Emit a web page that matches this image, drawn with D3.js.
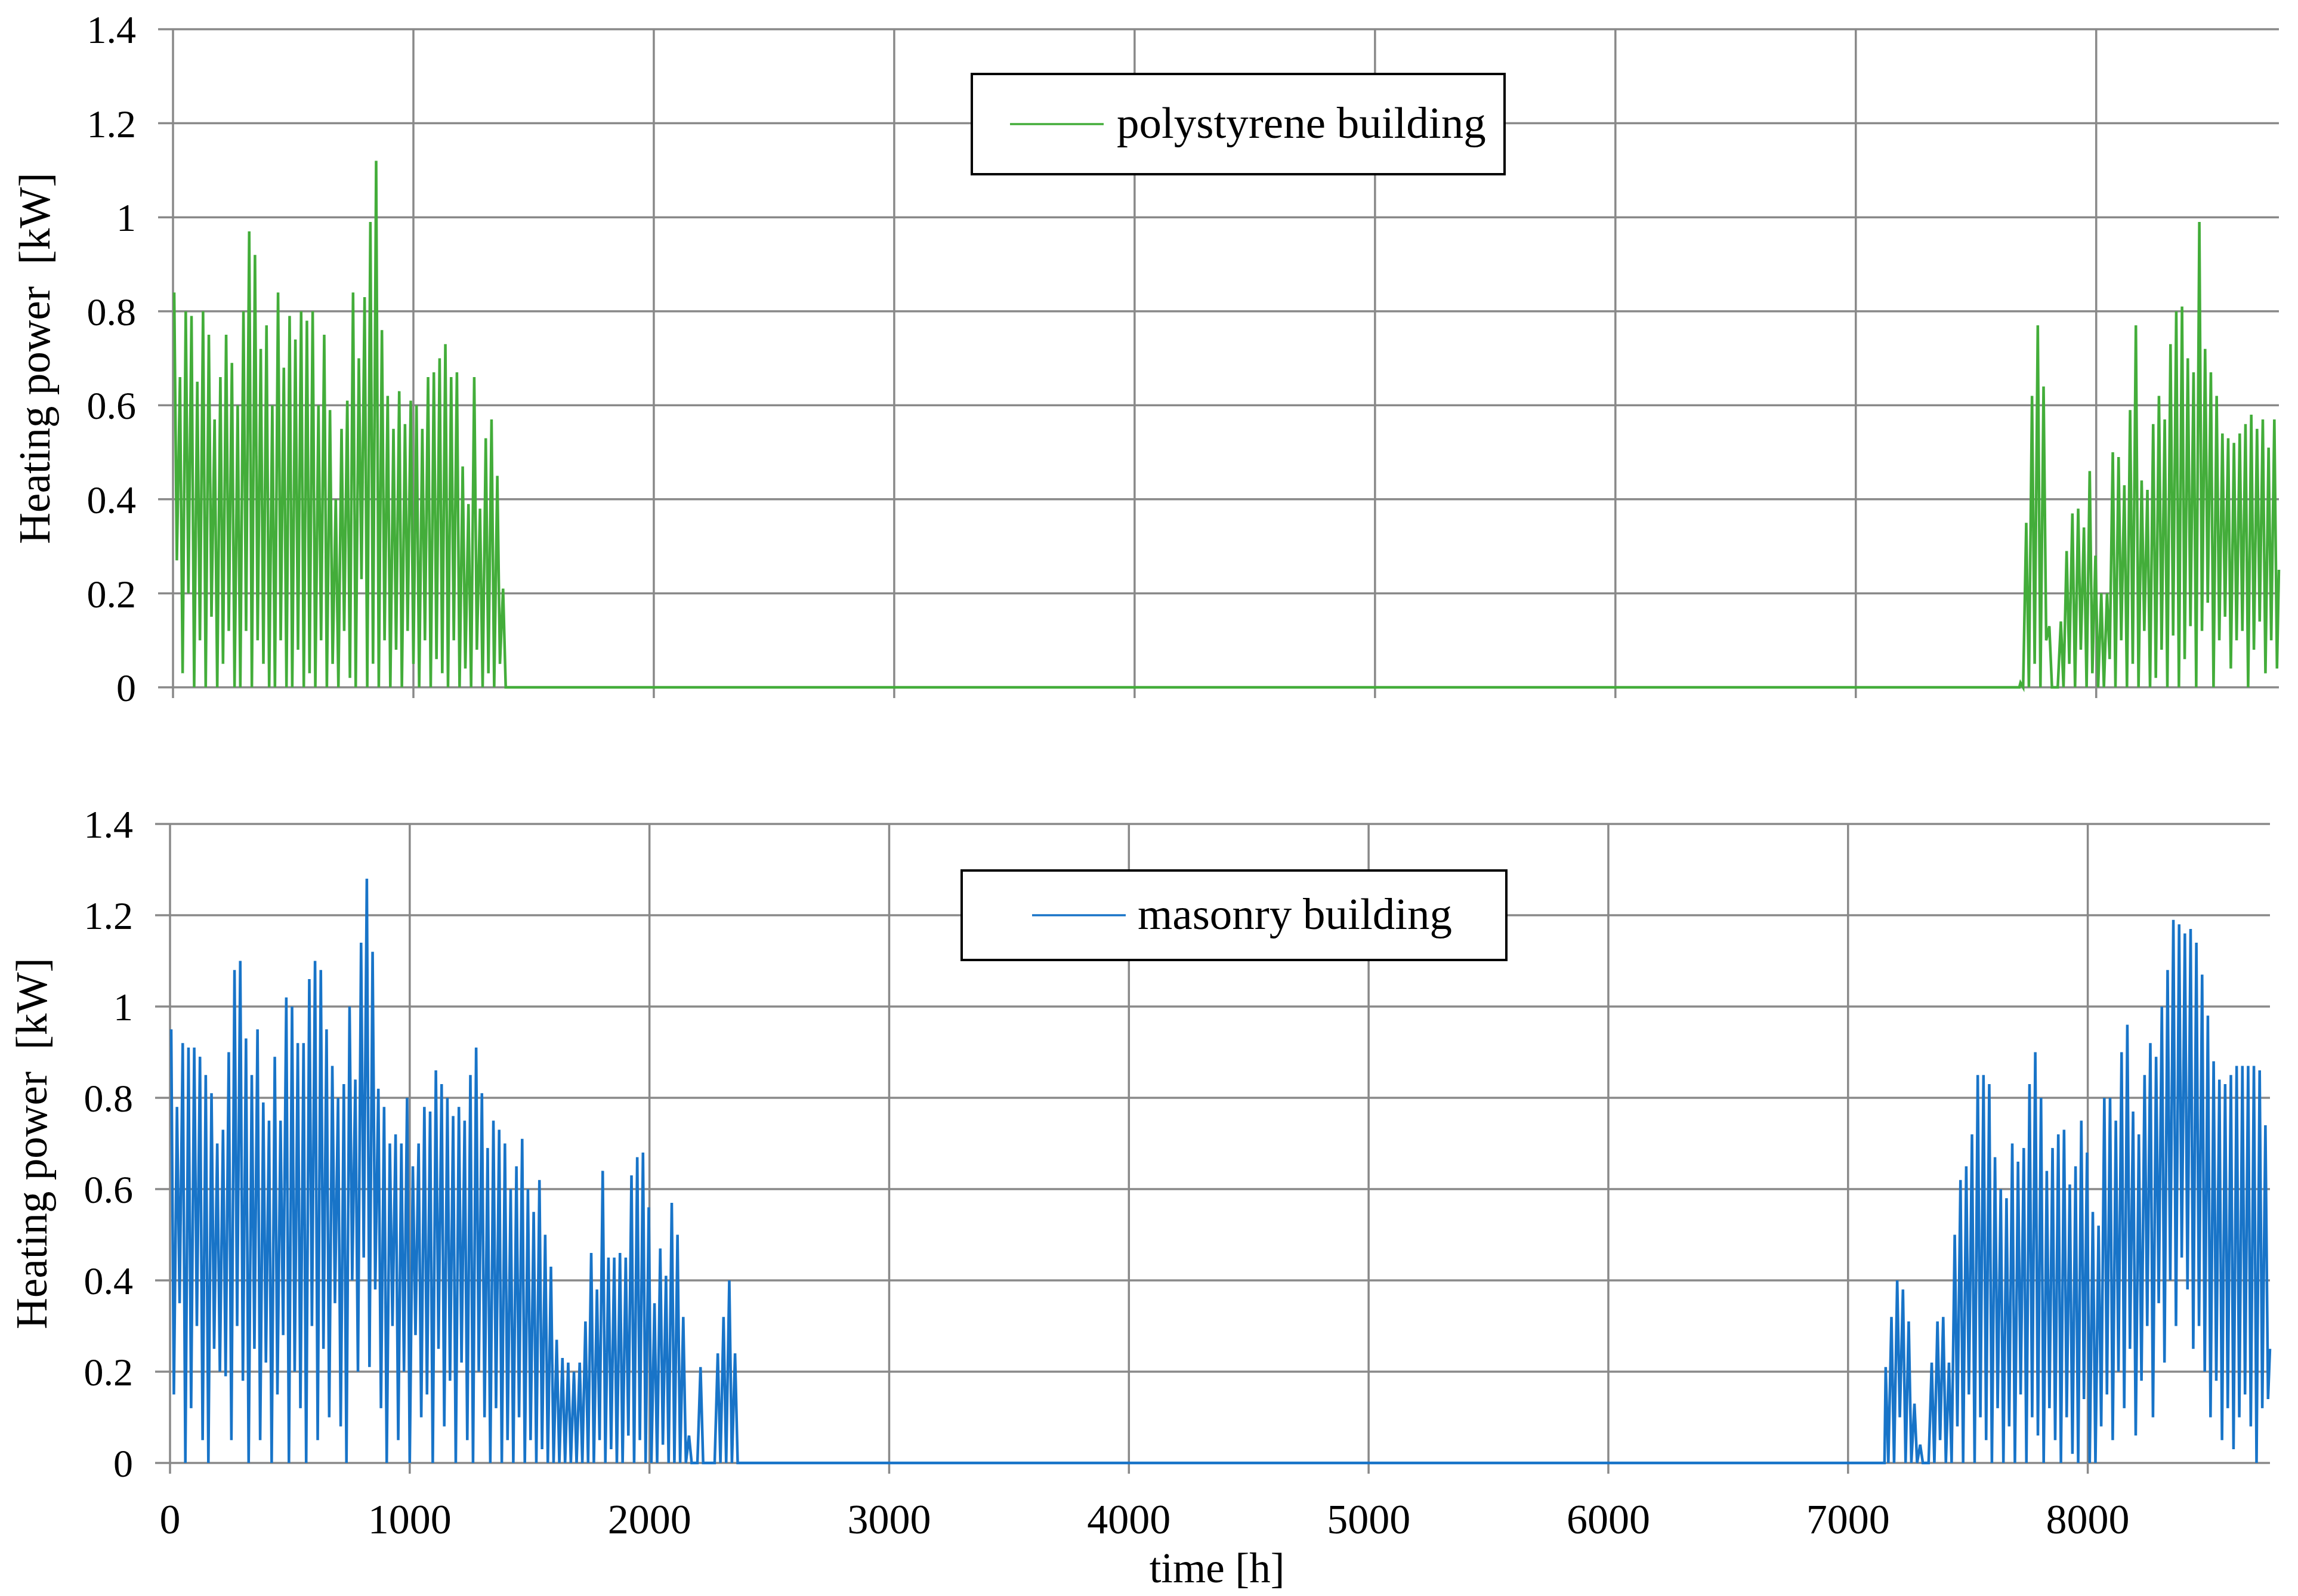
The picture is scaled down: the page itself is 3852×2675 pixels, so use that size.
<!DOCTYPE html>
<html><head><meta charset="utf-8">
<script src="https://cdn.jsdelivr.net/npm/d3@7"></script>
<style>body{margin:0;background:#fff}svg{display:block}</style>
</head><body>
<svg id="c" width="3852" height="2675"></svg>
<script>
// ---- DATA (daily peak / trough heating power, kW) ----
const xTicks = [0,1000,2000,3000,4000,5000,6000,7000,8000];
const yTicks = [0,0.2,0.4,0.6,0.8,1,1.2,1.4];
const yTickLabels = ["0","0.2","0.4","0.6","0.8","1","1.2","1.4"];

const polyEarlyStartDay = 0;
const polyEarlyHigh = [0.84,0.66,0.80,0.79,0.65,0.80,0.75,0.57,0.66,0.75,0.69,
 0.60,0.80,0.97,0.92,0.72,0.77,0.60,0.84,
 0.68,0.79,0.74,0.80,0.78,0.80,0.60,0.75,
 0.59,0.40,0.55,0.61,0.84,0.70,0.83,0.99,1.12,0.76,
 0.62,0.55,0.63,0.56,0.61,0.60,0.55,0.66,0.67,0.70,
 0.73,0.66,0.67,0.47,0.39,0.66,0.38,0.53,0.57,0.45,0.21];
const polyEarlyLow = [0.27,0.03,0.20,0,0.10,0,0.15,0,0.05,0.12,0,
 0,0.12,0,0.10,0.05,0,0,0.10,
 0,0,0.08,0,0.03,0,0.10,0,
 0.05,0,0.12,0.02,0,0.23,0,0.05,0,0.10,
 0,0.08,0,0.12,0.05,0,0.10,0,0.06,0.03,
 0,0.10,0,0.04,0,0.08,0,0.03,0,0.05,0];
const polyLateStartDay = 320;
const polyLateHigh = [0.01,0.35,0.62,0.77,0.64,0.13,0,0.14,0.29,0.37,0.38,0.34,0.46,0.28,0.20,0.20,
 0.50,0.49,0.43,0.59,0.77,0.44,0.42,0.56,0.62,0.57,0.73,0.80,0.81,0.70,0.67,0.99,
 0.72,0.67,0.62,0.54,0.53,0.52,0.54,0.56,0.58,0.55,0.57,0.51,0.57];
const polyLateLow = [0,0,0.05,0,0.10,0,0,0,0.05,0,0.08,0,0.03,0,0,0.06,
 0,0.10,0,0.05,0,0.12,0,0.02,0.08,0,0.11,0,0.06,0.13,0,0.12,
 0.18,0,0.10,0.15,0.04,0.10,0.12,0,0.08,0.14,0.03,0.10,0.04];

const masEarlyStartDay = 0;
const masEarlyHigh = [0.95,0.78,0.92,0.91,0.91,0.89,0.85,0.81,0.70,
 0.73,0.90,1.08,1.10,0.93,0.85,0.95,0.79,0.75,
 0.89,0.75,1.02,1.00,0.92,0.92,1.06,1.10,1.08,0.95,
 0.87,0.80,0.83,1.00,0.84,1.14,1.28,1.12,0.82,0.78,
 0.70,0.72,0.70,0.80,0.65,0.70,0.78,0.77,0.86,0.83,
 0.80,0.76,0.78,0.75,0.85,0.91,0.81,0.69,0.75,0.73,
 0.70,0.60,0.65,0.71,0.60,0.55,0.62,0.50,0.43,0.27,
 0.23,0.22,0.20,0.22,0.31,0.46,0.38,0.64,0.45,0.45,
 0.46,0.45,0.63,0.67,0.68,0.56,0.35,0.47,0.41,0.57,
 0.50,0.32,0.06,0,0.21,0,0,0.24,0.32,0.40,0.24];
const masEarlyLow = [0.15,0.35,0,0.12,0.30,0.05,0,0.25,0.20,
 0.19,0.05,0.30,0.18,0,0.25,0.05,0.22,0,
 0.15,0.28,0,0.20,0.12,0,0.30,0.05,0.25,0.10,
 0.35,0.08,0,0.40,0.20,0.45,0.21,0.38,0.12,0,
 0.30,0.05,0.20,0,0.28,0.10,0.15,0,0.25,0.08,
 0.18,0,0.22,0.05,0,0.20,0.10,0,0.12,0,
 0.05,0,0.10,0,0.05,0,0.03,0,0,0,
 0,0,0,0,0,0,0.05,0,0.03,0,
 0,0.06,0,0.05,0,0,0,0.04,0,0,
 0,0,0,0,0,0,0,0,0,0,0];
const masLateStartDay = 298;
const masLateHigh = [0.21,0.32,0.40,0.38,0.31,0.13,0.04,0,0.22,0.31,0.32,0.22,0.50,0.62,0.65,0.72,0.85,0.85,0.83,0.67,
 0.60,0.58,0.70,0.66,0.69,0.83,0.90,0.80,0.64,0.69,0.72,0.73,0.61,0.65,0.75,0.68,0.55,0.52,0.80,0.80,
 0.75,0.90,0.96,0.77,0.72,0.85,0.92,0.89,1.00,1.08,1.19,1.18,1.16,1.17,1.14,1.07,0.98,0.88,0.84,0.83,
 0.85,0.87,0.87,0.87,0.87,0.86,0.74];
const masLateLow = [0,0,0.10,0,0,0,0,0,0,0.05,0,0,0.08,0,0.15,0,0.10,0.05,0,0.12,
 0,0.08,0,0.15,0,0.10,0.06,0,0.12,0.05,0,0.10,0.02,0,0.14,0,0,0.08,0.15,0.05,
 0.20,0.12,0.25,0.06,0.18,0.30,0.10,0.35,0.22,0.40,0.30,0.45,0.38,0.25,0.30,0.20,0.10,0.18,0.05,0.12,
 0.03,0.10,0.15,0.08,0,0.12,0.14];

// ---- build series ----
function buildSeries(eStart, eHigh, eLow, lStart, lHigh, lLow){
  const pts = [];
  eHigh.forEach((h,i)=>{ const d = eStart+i; pts.push([d*24+5, h]); pts.push([d*24+16, eLow[i]]); });
  pts.push([(eStart+eHigh.length)*24, 0]);
  pts.push([lStart*24, 0]);
  lHigh.forEach((h,i)=>{ const d = lStart+i; pts.push([d*24+5, h]); pts.push([d*24+16, lLow[i]]); });
  pts.push([8760, 0.25]);
  return pts;
}
const polySeries = buildSeries(polyEarlyStartDay, polyEarlyHigh, polyEarlyLow, polyLateStartDay, polyLateHigh, polyLateLow);
const masSeries = buildSeries(masEarlyStartDay, masEarlyHigh, masEarlyLow, masLateStartDay, masLateHigh, masLateLow);

const svg = d3.select("#c");
const FONT = "'Liberation Serif','DejaVu Serif',serif";

function panel(cfg){
  const x = d3.scaleLinear().domain([0,8760]).range([cfg.left, cfg.right]);
  const y = d3.scaleLinear().domain([0,1.4]).range([cfg.bottom, cfg.top]);
  const g = svg.append("g");
  g.selectAll(".hg").data(yTicks).enter().append("line")
    .attr("x1", cfg.left-25).attr("x2", cfg.right).attr("y1", d=>y(d)).attr("y2", d=>y(d))
    .attr("stroke","#898989").attr("stroke-width",3.5);
  g.selectAll(".vg").data(xTicks).enter().append("line")
    .attr("x1", d=>x(d)).attr("x2", d=>x(d)).attr("y1", cfg.top).attr("y2", cfg.bottom + 18)
    .attr("stroke","#898989").attr("stroke-width",3.5);
  g.selectAll(".yl").data(yTicks).enter().append("text")
    .attr("x", cfg.left-62).attr("y", d=>y(d)).attr("dy","0.35em")
    .attr("text-anchor","end").attr("font-family",FONT).attr("font-size",66)
    .text((d,i)=>yTickLabels[i]);
  if (cfg.xlabels){
    g.selectAll(".xl").data(xTicks).enter().append("text")
      .attr("x", d=>x(d)).attr("y", cfg.bottom+118)
      .attr("text-anchor","middle").attr("font-family",FONT).attr("font-size",70)
      .text(d=>d);
  }
  g.append("path").datum(cfg.data)
    .attr("d", d3.line().x(d=>x(d[0])).y(d=>y(d[1])))
    .attr("fill","none").attr("stroke",cfg.color).attr("stroke-width",4.5).attr("stroke-linejoin","miter");
  g.append("text").attr("transform",`translate(${cfg.titleX},${(cfg.top+cfg.bottom)/2}) rotate(-90)`)
    .attr("text-anchor","middle").attr("dy","0.35em").attr("font-family",FONT).attr("font-size",73)
    .attr("xml:space","preserve").text("Heating power  [kW]");
  const L = cfg.legend;
  g.append("rect").attr("x",L.x).attr("y",L.y).attr("width",L.w).attr("height",L.h)
    .attr("fill","#fff").attr("stroke","#000").attr("stroke-width",4);
  g.append("line").attr("x1",L.lx1).attr("x2",L.lx2).attr("y1",L.y+L.h/2).attr("y2",L.y+L.h/2)
    .attr("stroke",cfg.color).attr("stroke-width",3.5);
  g.append("text").attr("x",L.tx).attr("y",L.y+L.h/2).attr("dy","0.3em")
    .attr("font-family",FONT).attr("font-size",75).text(cfg.name);
}

panel({left:290,right:3820,top:49,bottom:1152,data:polySeries,color:"#43AD3A",xlabels:false,titleX:57,
  name:"polystyrene building",legend:{x:1629,y:124,w:893,h:168,lx1:1693,lx2:1850,tx:1872}});
panel({left:285,right:3805,top:1381,bottom:2452,data:masSeries,color:"#1874C8",xlabels:true,titleX:52,
  name:"masonry building",legend:{x:1612,y:1459,w:913,h:150,lx1:1730,lx2:1887,tx:1907}});

svg.append("text").attr("x",2040).attr("y",2652).attr("text-anchor","middle")
  .attr("font-family",FONT).attr("font-size",71).text("time [h]");
</script>
</body></html>
